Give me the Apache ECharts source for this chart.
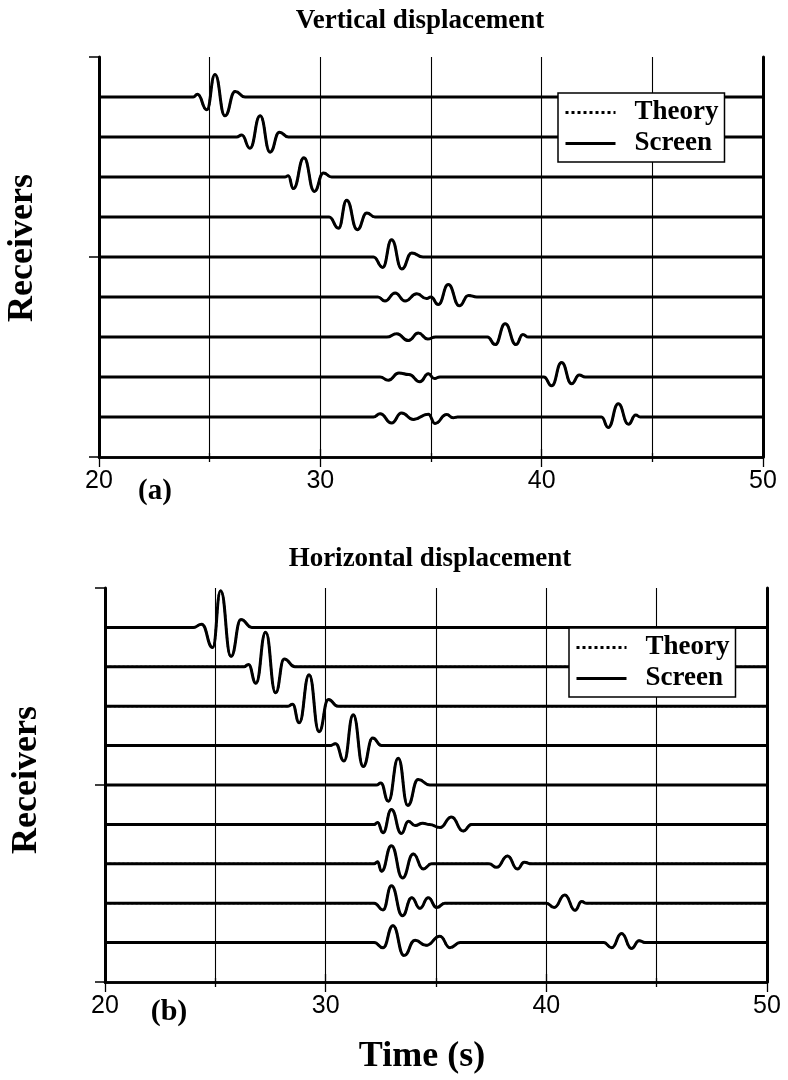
<!DOCTYPE html>
<html>
<head>
<meta charset="utf-8">
<script src="https://cdn.jsdelivr.net/npm/echarts@6/dist/echarts.min.js"></script>
<style>html,body{margin:0;padding:0;background:#fff}#c{width:788px;height:1080px}</style>
</head>
<body>
<div id="c"></div>
<script>
// ---- Data (time in s, amplitude in units of trace spacing) ----
const timeTicks = [20, 30, 40, 50];
const receiverRange = [0, 10];

// Vertical displacement: 9 receivers, top to bottom, key points [time, amplitude]
const verticalTraces = [
  [[24.26,0],[24.45,0.07],[24.87,-0.32],[25.24,0.56],[25.69,-0.47],[26.15,0.14],[26.6,0]],
  [[26.22,0],[26.45,0.05],[26.82,-0.28],[27.28,0.53],[27.73,-0.38],[28.15,0.12],[28.56,0]],
  [[28.4,0],[28.55,0.03],[28.78,-0.29],[29.26,0.48],[29.73,-0.36],[30.14,0.1],[30.51,0]],
  [[30.4,0],[30.82,-0.28],[31.19,0.42],[31.67,-0.32],[32.1,0.1],[32.47,0]],
  [[32.4,0],[32.82,-0.26],[33.22,0.43],[33.68,-0.3],[34.13,0.1],[34.64,0]],
  [[32.6,0],[32.92,-0.1],[33.38,0.1],[33.83,-0.1],[34.36,0.08],[34.8,-0.04],[35.0,0],[35.33,-0.19],[35.78,0.31],[36.28,-0.22],[36.69,0.04],[37.07,0]],
  [[33.0,0],[33.45,0.08],[33.98,-0.09],[34.43,0.1],[34.85,-0.05],[35.2,0],[37.55,0],[37.9,-0.19],[38.35,0.33],[38.84,-0.19],[39.15,0.06],[39.4,0]],
  [[32.7,0],[33.07,-0.08],[33.55,0.1],[34.0,0.06],[34.5,-0.12],[34.88,0.08],[35.15,-0.04],[35.4,0],[40.1,0],[40.45,-0.22],[40.9,0.36],[41.35,-0.17],[41.7,0.05],[41.96,0]],
  [[32.4,0],[32.7,0.08],[33.22,-0.15],[33.67,0.1],[34.2,-0.06],[34.88,0.07],[35.18,-0.16],[35.71,0.06],[36.0,-0.02],[36.2,0],[42.7,0],[43.01,-0.26],[43.46,0.33],[43.92,-0.18],[44.25,0.05],[44.45,0]]
];

// Horizontal displacement: 9 receivers, top to bottom
const horizontalTraces = [
  [[24.0,0],[24.38,0.08],[24.88,-0.51],[25.24,0.93],[25.71,-0.74],[26.16,0.2],[26.65,0]],
  [[26.3,0],[26.5,0.06],[26.84,-0.42],[27.28,0.88],[27.73,-0.66],[28.12,0.2],[28.61,0]],
  [[28.3,0],[28.5,0.05],[28.8,-0.42],[29.25,0.8],[29.7,-0.65],[30.12,0.17],[30.56,0]],
  [[30.2,0],[30.45,0.05],[30.83,-0.39],[31.25,0.78],[31.7,-0.53],[32.13,0.19],[32.53,0]],
  [[32.3,0],[32.5,0.05],[32.84,-0.41],[33.29,0.68],[33.72,-0.52],[34.19,0.14],[34.72,0]],
  [[32.2,0],[32.35,0.05],[32.6,-0.21],[32.98,0.38],[33.43,-0.23],[33.75,0.08],[34.05,-0.03],[34.4,0.03],[34.7,0],[35.18,-0.08],[35.7,0.19],[36.23,-0.17],[36.61,0]],
  [[32.2,0],[32.35,0.05],[32.53,-0.19],[32.98,0.46],[33.48,-0.36],[33.97,0.25],[34.42,-0.13],[34.8,0],[37.4,0],[37.75,-0.09],[38.24,0.2],[38.69,-0.13],[39.0,0.04],[39.33,0]],
  [[32.2,0],[32.6,-0.17],[32.98,0.44],[33.48,-0.32],[33.9,0.14],[34.27,-0.13],[34.65,0.14],[35.03,-0.11],[35.4,0],[40.0,0],[40.35,-0.11],[40.84,0.21],[41.3,-0.18],[41.6,0.04],[41.82,0]],
  [[32.2,0],[32.6,-0.13],[33.05,0.43],[33.55,-0.33],[34.05,0.06],[34.55,-0.07],[35.18,0.16],[35.63,-0.13],[36.1,0],[42.6,0],[42.96,-0.13],[43.41,0.23],[43.86,-0.15],[44.2,0.05],[44.47,0]]
];

const seriesNames = ['Theory', 'Screen'];
const panelTitles = ['Vertical displacement', 'Horizontal displacement'];
const panelTags = ['(a)', '(b)'];
const yAxisTitle = 'Receivers';
const xAxisTitle = 'Time (s)';

// ---- Build ----
const tMin = timeTicks[0], tMax = timeTicks[timeTicks.length - 1];
function traceData(tr, idx) {
  const base = receiverRange[1] - (idx + 1);
  const d = [[tMin, base]];
  tr.forEach(p => d.push([p[0], base + p[1]]));
  d.push([tMax, base]);
  return d;
}

const serif = '"Liberation Serif", "Times New Roman", serif';
const sans = '"Liberation Sans", Arial, Helvetica, sans-serif';
const black = '#000';

const grids = [
  {left: 99, top: 57, width: 664, height: 400},
  {left: 105, top: 588, width: 662, height: 394}
];

const xAxes = [], yAxes = [], series = [];
grids.forEach((g, gi) => {
  xAxes.push({
    gridIndex: gi, type: 'value', position: 'bottom', min: tMin, max: tMax, interval: 10,
    axisLine: {lineStyle: {color: black, width: 2.5}},
    axisTick: {show: true, length: 10, lineStyle: {color: black, width: 1.3}},
    minorTick: {show: true, splitNumber: 2, length: 5, lineStyle: {color: black, width: 1.3}},
    axisLabel: {color: black, fontFamily: sans, fontSize: 25, margin: 12},
    splitLine: {show: true, lineStyle: {color: black, width: 1.1}},
    minorSplitLine: {show: true, lineStyle: {color: black, width: 1.1}}
  });
  xAxes.push({
    gridIndex: gi, type: 'value', position: 'top', min: tMin, max: tMax, interval: 10,
    axisLine: {lineStyle: {color: black, width: 2.5}},
    axisTick: {show: true, length: 8, lineStyle: {color: black, width: 1.3}},
    minorTick: {show: true, splitNumber: 2, length: 4, lineStyle: {color: black, width: 1.3}},
    axisLabel: {show: false}, splitLine: {show: false}
  });
  yAxes.push({
    gridIndex: gi, type: 'value', position: 'left', min: receiverRange[0], max: receiverRange[1], interval: 5,
    axisLine: {show: true, lineStyle: {color: black, width: 3}},
    axisTick: {show: true, length: 10, lineStyle: {color: black, width: 1.5}},
    axisLabel: {show: false}, splitLine: {show: false}
  });
  yAxes.push({
    gridIndex: gi, type: 'value', position: 'right', min: receiverRange[0], max: receiverRange[1], interval: 5,
    axisLine: {show: true, lineStyle: {color: black, width: 3}},
    axisTick: {show: false}, axisLabel: {show: false}, splitLine: {show: false}
  });
  const traces = gi === 0 ? verticalTraces : horizontalTraces;
  traces.forEach((tr, i) => {
    const data = traceData(tr, i);
    series.push({
      name: seriesNames[0], type: 'line', xAxisIndex: gi * 2, yAxisIndex: gi * 2,
      data: data, symbol: 'none', showSymbol: false, smooth: 0.5, smoothMonotone: 'x', silent: true, z: 2,
      lineStyle: {color: black, width: 2.2, type: 'dotted'}, itemStyle: {color: black}
    });
    series.push({
      name: seriesNames[1], type: 'line', xAxisIndex: gi * 2, yAxisIndex: gi * 2,
      data: data, symbol: 'none', showSymbol: false, smooth: 0.5, smoothMonotone: 'x', silent: true, z: 3,
      lineStyle: {color: black, width: 3}, itemStyle: {color: black}
    });
  });
});

const legendBase = {
  data: seriesNames, orient: 'vertical', itemWidth: 50, itemHeight: 14, itemGap: 4,
  padding: [6, 6, 5, 6], borderColor: black, borderWidth: 1.5, backgroundColor: '#fff',
  selectedMode: false, z: 10,
  itemStyle: {opacity: 0, borderWidth: 0},
  lineStyle: {width: 3},
  textStyle: {fontFamily: serif, fontWeight: 'bold', fontSize: 27, color: black, padding: [0, 0, 0, 14]}
};

const textEl = (txt, x, y, size, rot) => ({
  type: 'text', x: x, y: y, rotation: rot || 0, z: 20,
  style: {text: txt, fill: black, font: 'bold ' + size + 'px ' + serif, align: 'center', verticalAlign: 'middle'}
});

const option = {
  animation: false,
  backgroundColor: '#fff',
  grid: grids,
  xAxis: xAxes,
  yAxis: yAxes,
  legend: [
    Object.assign({}, legendBase, {left: 558, top: 93}),
    Object.assign({}, legendBase, {left: 569, top: 628})
  ],
  graphic: [
    textEl(panelTitles[0], 420, 21, 27),
    textEl(panelTitles[1], 430, 559, 27),
    textEl(yAxisTitle, 23, 248, 36, Math.PI / 2),
    textEl(yAxisTitle, 27, 780, 36, Math.PI / 2),
    textEl(panelTags[0], 155, 492, 29),
    textEl(panelTags[1], 169, 1012, 30),
    textEl(xAxisTitle, 422, 1057, 36)
  ],
  series: series
};

const chart = echarts.init(document.getElementById('c'), null, {renderer: 'canvas'});
chart.setOption(option);
</script>
</body>
</html>
